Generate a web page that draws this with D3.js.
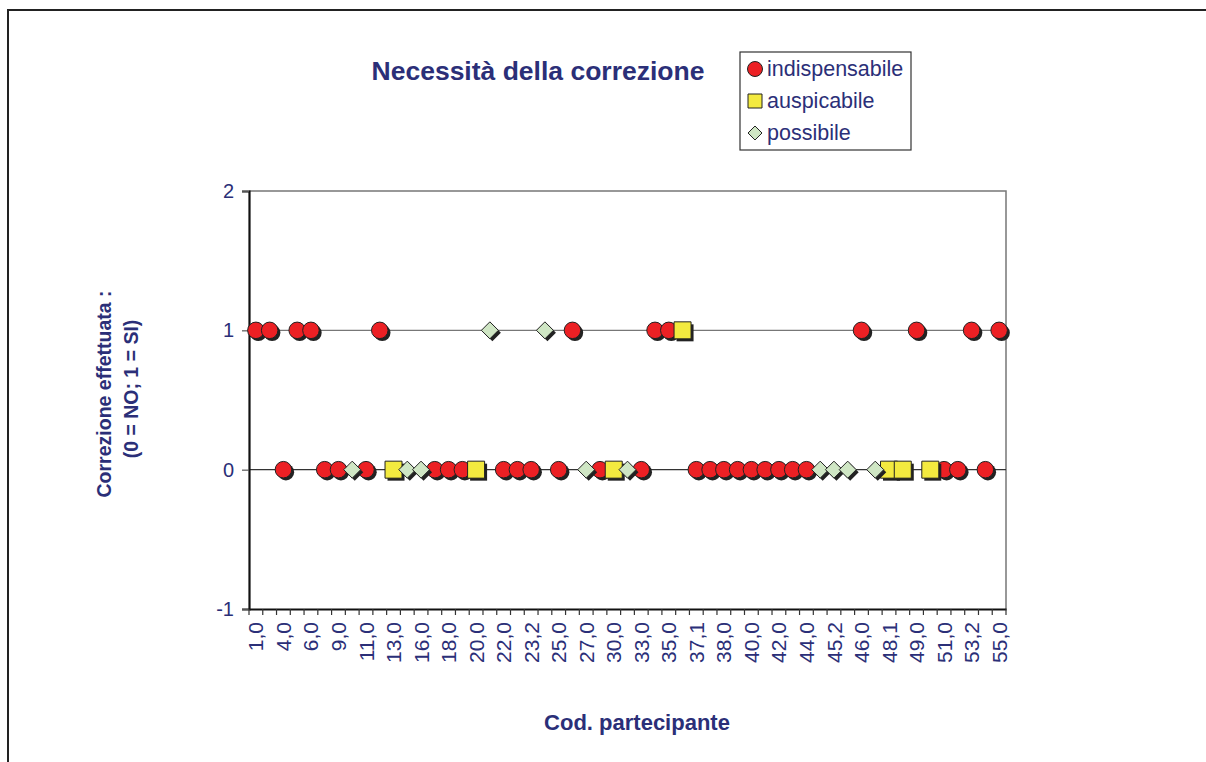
<!DOCTYPE html>
<html><head><meta charset="utf-8">
<script src="https://cdn.jsdelivr.net/npm/d3@7"></script>
<style>body{margin:0;background:#fff;}svg{display:block;font-family:"Liberation Sans",Arial,sans-serif;}</style>
</head><body><svg id="c" width="1206" height="762"></svg>
<script>
const categories = ["1,0","2,0","4,0","5,0","6,0","7,0","9,0","10,0","11,0","12,0","13,0","14,0","16,0","17,0","18,0","19,0","20,0","21,0","22,0","23,1","23,2","24,0","25,0","26,0","27,0","28,0","30,0","31,0","33,0","34,0","35,0","36,0","37,1","37,2","38,0","39,0","40,0","41,0","42,0","43,0","44,0","45,1","45,2","45,3","46,0","47,0","48,1","48,2","49,0","50,0","51,0","52,0","53,2","54,0","55,0"];
// value per category (0 = NO, 1 = SI)
const values = [1,1,0,1,1,0,0,0,0,1,0,0,0,0,0,0,0,1,0,0,0,1,0,1,0,0,0,0,0,1,1,1,0,0,0,0,0,0,0,0,0,0,0,0,1,0,0,0,1,0,0,0,1,0,1];
// necessity type per category: I = indispensabile, A = auspicabile, P = possibile
const types = ["I","I","I","I","I","I","I","P","I","I","A","P","P","I","I","I","A","P","I","I","I","P","I","I","P","I","A","P","I","I","I","A","I","I","I","I","I","I","I","I","I","P","P","P","I","P","A","A","I","A","I","I","I","I","I"];
const seriesNames = ["indispensabile","auspicabile","possibile"];
const seriesCodes = ["I","A","P"];
const yTicks = [-1,0,1,2];
const xLabelEvery = 2;

const navy = "#2b2f78";
const FF = "Liberation Sans, Arial, sans-serif";
const svg = d3.select("#c");
// outer frame
svg.append("path").attr("d","M8,762 L8,10 L1206,10").attr("fill","none").attr("stroke","#222").attr("stroke-width",2);

const L=249, R=1006, T=191, B=609;
const x = d3.scaleBand().domain(categories).range([L,R]).paddingInner(0).paddingOuter(0);
const y = d3.scaleLinear().domain([-1,2]).range([B,T]);

// plot border (top/right)
svg.append("path").attr("d",`M${L},${T} L${R},${T} L${R},${B}`).attr("fill","none").attr("stroke","#777").attr("stroke-width",1.5);
// reference lines
svg.append("line").attr("x1",L).attr("x2",R).attr("y1",y(1)).attr("y2",y(1)).attr("stroke","#777").attr("stroke-width",1.3);
svg.append("line").attr("x1",L).attr("x2",R).attr("y1",y(0)).attr("y2",y(0)).attr("stroke","#333").attr("stroke-width",1.3);

// y axis
const ya = svg.append("g").attr("transform",`translate(${L},0)`)
  .call(d3.axisLeft(y).tickValues(yTicks).tickSize(7).tickPadding(8).tickFormat(d=>String(d)));
ya.select(".domain").attr("stroke","#111").attr("stroke-width",2.2);
ya.selectAll(".tick line").attr("stroke","#555").attr("stroke-width",1.2);
ya.selectAll("text").attr("fill",navy).attr("font-size",20).attr("font-family",FF);

// x axis
const xa = svg.append("g").attr("transform",`translate(0,${B})`)
  .call(d3.axisBottom(x).tickSize(0).tickFormat((d,i)=> i%xLabelEvery===0 ? d : ""));
xa.select(".domain").attr("stroke","#111").attr("stroke-width",2);
xa.selectAll("text").attr("fill",navy).attr("font-size",21).attr("font-family",FF)
  .attr("transform","rotate(-90)").attr("text-anchor","end").attr("x",-13).attr("y",0).attr("dy","0.36em");
// tick marks at category boundaries
const bounds = categories.map(c=>x(c)).concat([R]);
svg.append("g").selectAll("line").data(bounds).join("line")
  .attr("x1",d=>d).attr("x2",d=>d).attr("y1",B).attr("y2",B+6).attr("stroke","#333").attr("stroke-width",1.2);

// markers
const fills = {I:"#ec2024",A:"#f3ea3f",P:"#cfe6c4"};
function markerPath(code, s){
  if(code==="I") return d3.symbol().type(d3.symbolCircle).size(Math.PI*s*s/4)();
  if(code==="A") return d3.symbol().type(d3.symbolSquare).size(s*s)();
  const h = s/2; return `M0,${-h}L${h},0L0,${h}L${-h},0Z`;
}
const sizes = {I:16.5,A:17,P:17};
const pts = categories.map((c,i)=>({c,v:values[i],t:types[i]}));
const g = svg.append("g");
seriesCodes.forEach(code=>{
  const d = pts.filter(p=>p.t===code);
  const path = markerPath(code, sizes[code]);
  d.forEach(p=>{
    const cx = x(p.c)+x.bandwidth()/2, cy = y(p.v);
    g.append("path").attr("d",path).attr("transform",`translate(${cx+2.5},${cy+2.5})`).attr("fill","#222");
    g.append("path").attr("d",path).attr("transform",`translate(${cx},${cy})`).attr("fill",fills[code]).attr("stroke","#222").attr("stroke-width",1);
  });
});

// title
svg.append("text").attr("x",538).attr("y",80).attr("text-anchor","middle").attr("font-size",26.5).attr("font-weight","bold").attr("fill",navy).text("Necessità della correzione");

// legend
const lg = svg.append("g");
lg.append("rect").attr("x",740).attr("y",52).attr("width",171).attr("height",98).attr("fill","#fff").attr("stroke","#333").attr("stroke-width",1.2);
const legSizes = {I:15,A:14,P:14};
seriesNames.forEach((n,i)=>{
  const code = seriesCodes[i];
  const cy = 69 + i*32;
  lg.append("path").attr("d",markerPath(code, legSizes[code])).attr("transform",`translate(755,${cy})`).attr("fill",fills[code]).attr("stroke","#222").attr("stroke-width",1);
  lg.append("text").attr("x",767).attr("y",cy+7).attr("font-size",21.5).attr("fill",navy).text(n);
});

// axis titles
svg.append("text").attr("transform","translate(111,394) rotate(-90)").attr("text-anchor","middle").attr("font-size",19.5).attr("font-weight","bold").attr("fill",navy).text("Correzione effettuata :");
svg.append("text").attr("transform","translate(138,389) rotate(-90)").attr("text-anchor","middle").attr("font-size",19.5).attr("font-weight","bold").attr("fill",navy).text("(0 = NO; 1 = SI)");
svg.append("text").attr("x",637).attr("y",730).attr("text-anchor","middle").attr("font-size",22).attr("font-weight","bold").attr("fill",navy).text("Cod. partecipante");
</script></body></html>
